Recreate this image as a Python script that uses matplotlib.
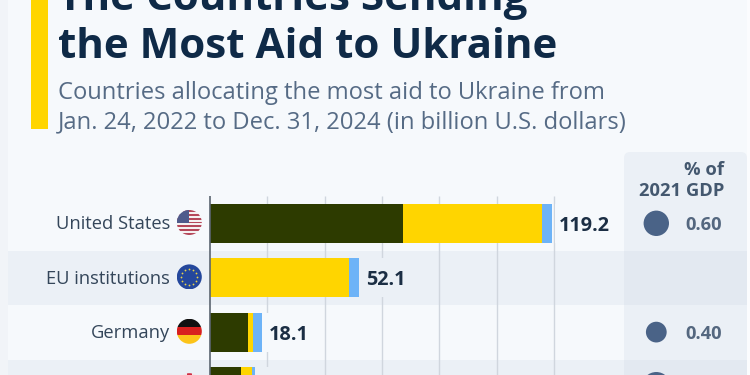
import numpy as np
import matplotlib
matplotlib.use("Agg")
import matplotlib.pyplot as plt
from matplotlib.patches import Circle, Rectangle, FancyBboxPatch

plt.rcParams['font.family'] = ['Open Sans', 'DejaVu Sans']

countries = ['United States', 'EU institutions', 'Germany', 'United Kingdom']
military = [67.2, 0.0, 13.4, 10.7]
financial = [48.7, 48.6, 1.5, 3.8]
humanitarian = [3.3, 3.5, 3.2, 1.1]
totals = [119.2, 52.1, 18.1, 15.6]
gdp_share = [0.60, np.nan, 0.40, 0.78]
grid_ticks = [0, 20, 40, 60, 80, 100, 120]

DARK = '#2d3b00'
YELLOW = '#ffd500'
BLUE = '#6db3f7'
BG = '#f6f9fc'
BAND = '#ebf0f6'
W, H = 750, 375
PX_PER_UNIT = 2.867
ROW_PX = 54.4
ROW0_PX = 223.3
ZERO_PX = 210


def pixel_axes(z):
    a = fig.add_axes([0, 0, 1, 1], facecolor='none', zorder=z)
    a.set_xlim(0, W)
    a.set_ylim(H, 0)
    a.axis('off')
    return a


fig = plt.figure(figsize=(7.5, 3.75), dpi=100, facecolor=BG)

# pixel axes for the page furniture, flags get their own on top
page = pixel_axes(0)
flags = pixel_axes(2)

page.add_patch(Rectangle((0, 0), 8, H, fc='#f1f4f8', ec='none'))
page.add_patch(Rectangle((747, 0), 3, H, fc='#fbfcfe', ec='none'))
page.add_patch(Rectangle((31, 0), 17, 128.5, fc=YELLOW, ec='none'))

page.add_patch(Rectangle((8, 251), 739, 54, fc=BAND, ec='none'))
page.add_patch(Rectangle((8, 360), 739, 15, fc=BAND, ec='none'))
page.add_patch(FancyBboxPatch((624, 152), 123, 240, boxstyle='round,pad=0,rounding_size=6',
                              fc='#d0d9e6', ec='none', alpha=0.27))

page.text(58, 10, 'The Countries Sending', fontsize=30.3, fontweight='bold', color='#0f2a47')
page.text(58, 58, 'the Most Aid to Ukraine', fontsize=30.3, fontweight='bold', color='#0f2a47')
page.text(58, 98.7, 'Countries allocating the most aid to Ukraine from', fontsize=17.1, color='#566b85')
page.text(58, 128.7, 'Jan. 24, 2022 to Dec. 31, 2024 (in billion U.S. dollars)', fontsize=17.1, color='#566b85')
page.text(724, 175, '% of', fontsize=13.2, fontweight='bold', color='#44586f', ha='right')
page.text(724, 196, '2021 GDP', fontsize=13.2, fontweight='bold', color='#44586f', ha='right')

# chart axes share the whole figure, scales set so that zero sits on the axis line
ax = fig.add_axes([0, 0, 1, 1], facecolor='none', zorder=1)
ax.set_xlim(-ZERO_PX / PX_PER_UNIT, (W - ZERO_PX) / PX_PER_UNIT)
ax.set_ylim((H - ROW0_PX) / ROW_PX, -ROW0_PX / ROW_PX)
ax.axis('off')

y = np.arange(len(countries))
m = np.array(military)
f = np.array(financial)
h = np.array(humanitarian)
bar_h = 39 / ROW_PX

top = (196 - ROW0_PX) / ROW_PX
ax.vlines(grid_ticks[1:], top, 4, color='#d0d6de', lw=1, zorder=1)
ax.vlines(0, top, 4, color='#5b6570', lw=1.2, zorder=4)

# masks under the value labels break the gridlines
row_bg = [BG, BAND, BG, BAND]
ax.barh(y, 40 / PX_PER_UNIT, left=np.array(totals) + 3 / PX_PER_UNIT, height=bar_h, color=row_bg, zorder=2)

ax.barh(y, m, height=bar_h, color=DARK, zorder=3)
ax.barh(y, f, left=m, height=bar_h, color=YELLOW, zorder=3)
ax.barh(y, h, left=m + f, height=bar_h, color=BLUE, zorder=3)

for i in range(3):
    ax.text(totals[i] + 7 / PX_PER_UNIT, i, f'{totals[i]:.1f}', fontsize=14.3, fontweight='bold',
            color='#1b2e44', va='center_baseline', zorder=5)
    ax.text(-40 / PX_PER_UNIT, i - 0.015, countries[i], fontsize=13.2, color='#34465a', ha='right',
            va='center_baseline', zorder=5)

# bubbles use the chart's rows
gdp_x = (656.3 - ZERO_PX) / PX_PER_UNIT
ax.scatter([gdp_x] * len(y), y, s=558 * np.array(gdp_share), color='#4a6387', lw=0, zorder=5)
for i in [0, 2]:
    ax.text((722 - ZERO_PX) / PX_PER_UNIT, i, f'{gdp_share[i]:.2f}', fontsize=13.2, fontweight='bold',
            color='#54677f', ha='right', va='center_baseline', zorder=5)


def flag(row, kind):
    cy = ROW0_PX + ROW_PX * row - 0.8
    cx, r = 189.3, 12.5
    clip = Circle((cx, cy), r, transform=flags.transData)
    items = []
    if kind == 'us':
        for k in range(7):
            items.append(Rectangle((cx - r, cy - r + k * 2 * r / 6.5), 2 * r, r / 6.5, fc='#b5485a'))
            items.append(Rectangle((cx - r, cy - r + (k + .5) * 2 * r / 6.5), 2 * r, r / 6.5, fc='#f5f1f1'))
        items.append(Rectangle((cx - r, cy - r), r, r, fc='#4f5b8c'))
    elif kind == 'eu':
        items.append(Rectangle((cx - r, cy - r), 2 * r, 2 * r, fc='#24479c'))
        for a in np.deg2rad(np.arange(0, 360, 30)):
            flags.plot(cx + 8 * np.cos(a), cy + 8 * np.sin(a), 'o', ms=1.3, color='#e8d24a', mew=0, zorder=7)
    elif kind == 'de':
        for k, c in enumerate(['#111111', '#d8201f', '#fcc419']):
            items.append(Rectangle((cx - r, cy - r + k * 2 * r / 3), 2 * r, 2 * r / 3, fc=c))
    elif kind == 'uk':
        items.append(Rectangle((cx - r, cy - r), 2 * r, 2 * r, fc='#f2e6e8'))
        items.append(Rectangle((cx - 2.5, cy - r), 5, 2 * r, fc='#cf3045'))
    for it in items:
        it.set_edgecolor('none')
        it.set_zorder(6)
        flags.add_patch(it)
        it.set_clip_path(clip)


for row, kind in enumerate(['us', 'eu', 'de', 'uk']):
    flag(row, kind)
flags.set_xlim(0, W)
flags.set_ylim(H, 0)

fig.savefig('out.png', dpi=100, facecolor=fig.get_facecolor())
